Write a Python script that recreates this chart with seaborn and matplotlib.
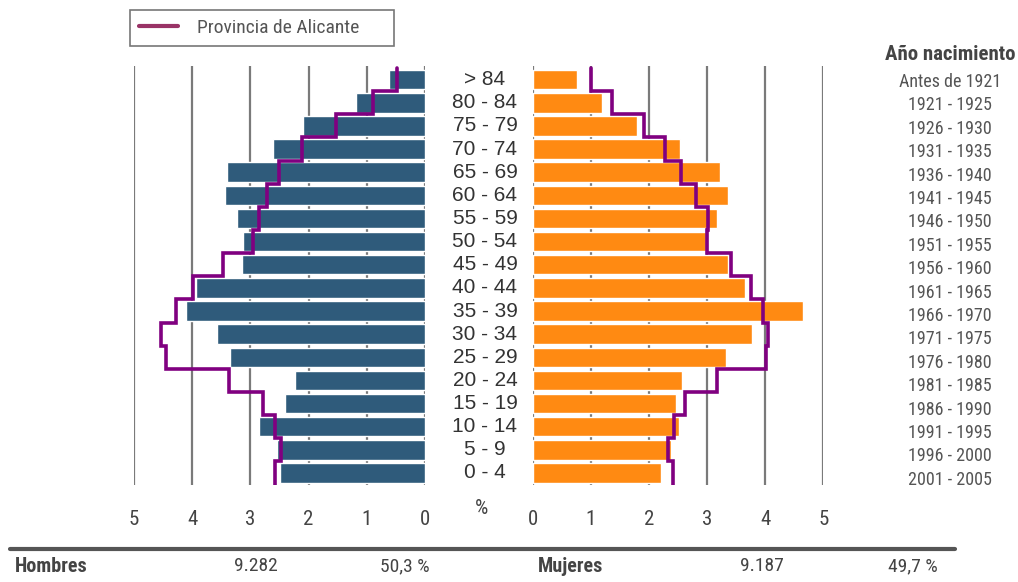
import matplotlib
matplotlib.use("Agg")
import matplotlib.pyplot as plt
from matplotlib.lines import Line2D
from matplotlib import transforms, font_manager
import seaborn as sns
import pandas as pd

# ---------------- data ----------------
age_groups = ["> 84", "80 - 84", "75 - 79", "70 - 74", "65 - 69", "60 - 64", "55 - 59",
              "50 - 54", "45 - 49", "40 - 44", "35 - 39", "30 - 34", "25 - 29", "20 - 24",
              "15 - 19", "10 - 14", "5 - 9", "0 - 4"]
birth_years = ["Antes de 1921", "1921 - 1925", "1926 - 1930", "1931 - 1935", "1936 - 1940",
               "1941 - 1945", "1946 - 1950", "1951 - 1955", "1956 - 1960", "1961 - 1965",
               "1966 - 1970", "1971 - 1975", "1976 - 1980", "1981 - 1985", "1986 - 1990",
               "1991 - 1995", "1996 - 2000", "2001 - 2005"]
men_pct = [0.61, 1.18, 2.09, 2.61, 3.40, 3.44, 3.23, 3.13, 3.14, 3.94, 4.11, 3.58, 3.35,
           2.23, 2.40, 2.85, 2.54, 2.49]
women_pct = [0.76, 1.19, 1.80, 2.54, 3.22, 3.36, 3.17, 2.99, 3.36, 3.65, 4.65, 3.77, 3.33,
             2.57, 2.47, 2.52, 2.38, 2.21]
prov_men = [0.48, 0.90, 1.53, 2.11, 2.51, 2.71, 2.86, 2.95, 3.47, 3.98, 4.27, 4.54, 4.45,
            3.36, 2.78, 2.58, 2.47, 2.57]
prov_women = [1.00, 1.37, 1.91, 2.27, 2.56, 2.81, 3.02, 3.00, 3.41, 3.75, 3.96, 4.04, 4.02,
              3.17, 2.62, 2.43, 2.33, 2.41]
x_ticks = [0, 1, 2, 3, 4, 5]
legend_label = "Provincia de Alicante"
side_title = "Año nacimiento"
men_label, men_total, men_share = "Hombres", "9.282", "50,3 %"
women_label, women_total, women_share = "Mujeres", "9.187", "49,7 %"

df = pd.DataFrame({"age": age_groups, "men": men_pct, "women": women_pct})

# ---------------- style ----------------
sns.set_theme(style="white")
REG = ["Liberation Sans", "DejaVu Sans"]
plt.rcParams["font.family"] = REG

# look for a condensed sans font (Arial Narrow look-alike)
cond_regular, cond_bold = None, None
pref = ["Liberation Sans Narrow", "Roboto Condensed", "Open Sans Condensed",
        "DejaVu Sans Condensed", "Noto Sans Condensed", "Liberation Sans", "Roboto",
        "Open Sans", "Noto Sans", "DejaVu Sans", "Inter", "Lato"]
cands = []
for fe in font_manager.fontManager.ttflist:
    st = fe.stretch
    name = fe.name
    is_cond = ("Narrow" in name or "Condensed" in name or
               (isinstance(st, str) and "condensed" in st) or
               (isinstance(st, (int, float)) and st < 100 and st != 100) or
               ("Narrow" in fe.fname or "Condensed" in fe.fname))
    if not is_cond or fe.style != "normal":
        continue
    rank = next((k for k, p in enumerate(pref) if name.startswith(p.split()[0])), 99)
    if "Semi" in fe.fname or "Semi" in name:
        rank += 0.5
    cands.append((rank, fe))
cands.sort(key=lambda t: t[0])
for rank, fe in cands:
    w = fe.weight if isinstance(fe.weight, int) else {"normal": 400, "regular": 400,
                                                       "bold": 700}.get(str(fe.weight), 400)
    if cond_regular is None and 350 <= w <= 450:
        cond_regular = fe.fname
    if cond_bold is None and w >= 650:
        cond_bold = fe.fname
HAVE_COND = cond_regular is not None

def nfont(size, bold=False):
    if HAVE_COND:
        f = cond_bold if (bold and cond_bold) else cond_regular
        fp = font_manager.FontProperties(fname=f, size=size)
        if bold and not cond_bold:
            fp.set_weight("bold")
        return fp
    return font_manager.FontProperties(family=REG, size=size * 0.86,
                                       weight="bold" if bold else "normal")

MEN_C = "#2F5B7B"
WOMEN_C = "#FF8A12"
LINE_C = "#800080"
GRID_C = "#7a7a7a"

W, H = 1018, 582
fig = plt.figure(figsize=(W / 100, H / 100), dpi=100)

def fx(px):
    return px / W

def fy(py):
    return 1 - py / H

ax_top, ax_bot = 66, 485
axL = fig.add_axes([fx(134), fy(ax_bot), fx(425) - fx(134), (ax_bot - ax_top) / H])
axR = fig.add_axes([fx(532.7), fy(ax_bot), fx(823.3) - fx(532.7), (ax_bot - ax_top) / H])

sns.barplot(data=df, x="men", y="age", orient="h", color=MEN_C, width=0.84,
            saturation=1, ax=axL, zorder=2)
sns.barplot(data=df, x="women", y="age", orient="h", color=WOMEN_C, width=0.84,
            saturation=1, ax=axR, zorder=2)

def step_xy(vals):
    xs, ys = [], []
    for i, v in enumerate(vals):
        xs += [v, v]
        ys += [i - 0.5, i + 0.5]
    return xs, ys

xs, ys = step_xy(prov_men)
axL.plot(xs, ys, color=LINE_C, lw=2.6, zorder=3, solid_joinstyle="miter")
xs, ys = step_xy(prov_women)
axR.plot(xs, ys, color=LINE_C, lw=2.6, zorder=3, solid_joinstyle="miter")

for ax, xl in ((axL, (5, 0)), (axR, (0, 5))):
    ax.set_xlim(*xl)
    ax.set_ylim(17.52, -0.59)
    ax.set_xticks(x_ticks)
    ax.set_xticklabels([str(t) for t in x_ticks])
    ax.set_yticks([])
    ax.set_xlabel("")
    ax.set_ylabel("")
    for s in ax.spines.values():
        s.set_visible(False)
    ax.grid(axis="x", color=GRID_C, lw=1.6, zorder=0)
    ax.set_axisbelow(True)
    ax.tick_params(axis="x", length=0, pad=18, labelcolor="#444444")
    for lab in ax.get_xticklabels():
        lab.set_fontproperties(nfont(15))

# centre age labels
trL = transforms.blended_transform_factory(fig.transFigure, axL.transData)
for i, a in enumerate(age_groups):
    fig.text(fx(485), i, a, transform=trL, ha="center", va="center",
             fontsize=15, color="#333333", family=REG)
# birth years on the right
for i, b in enumerate(birth_years):
    fig.text(fx(950), 0.1 + 1.0117 * i, b, transform=trL, ha="center", va="center",
             fontproperties=nfont(13), color="#555555")
fig.text(fx(950), fy(54), side_title, ha="center", va="center",
         fontproperties=nfont(15, bold=True), color="#444444")
fig.text(fx(481), fy(509), "%", ha="center", va="center", fontproperties=nfont(15),
         color="#444444")

# legend
handle = Line2D([0], [0], color="#993366", lw=3)
leg = fig.legend([handle], [legend_label], loc="upper left",
                 bbox_to_anchor=(fx(130), fy(45), fx(394) - fx(130), 35 / H),
                 mode="expand", borderaxespad=0, frameon=True, fancybox=False,
                 handlelength=2.0, handletextpad=1.0, borderpad=0.45,
                 prop=nfont(14))
leg.get_frame().set_edgecolor("#555555")
leg.get_frame().set_linewidth(1.2)
for t in leg.get_texts():
    t.set_color("#555555")

# bottom summary
fig.add_artist(Line2D([fx(10), fx(955)], [fy(549), fy(549)], color="#555555", lw=3))
yb = fy(566)
fig.text(fx(15), yb, men_label, ha="left", va="center",
         fontproperties=nfont(14.5, bold=True), color="#444444")
fig.text(fx(256), yb, men_total, ha="center", va="center", fontproperties=nfont(14), color="#444444")
fig.text(fx(405), yb, men_share, ha="center", va="center", fontproperties=nfont(14), color="#444444")
fig.text(fx(538), yb, women_label, ha="left", va="center",
         fontproperties=nfont(14.5, bold=True), color="#444444")
fig.text(fx(762), yb, women_total, ha="center", va="center", fontproperties=nfont(14), color="#444444")
fig.text(fx(913), yb, women_share, ha="center", va="center", fontproperties=nfont(14), color="#444444")

fig.savefig("out.png", dpi=100)
